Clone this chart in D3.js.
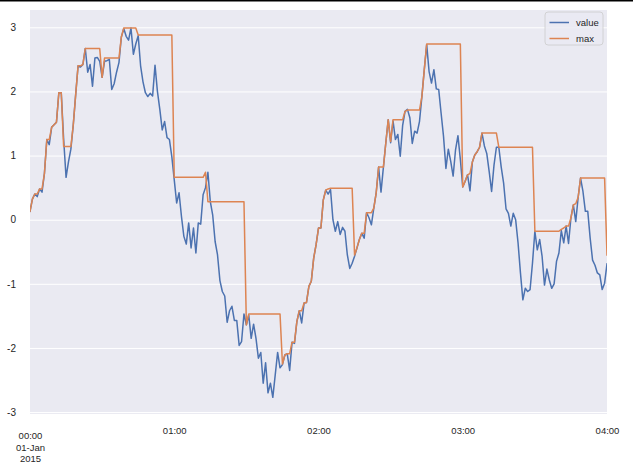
<!DOCTYPE html>
<html>
<head>
<meta charset="utf-8">
<script src="https://cdn.jsdelivr.net/npm/d3@7"></script>
<style>
  html, body { margin: 0; padding: 0; background: #fff; }
  svg { display: block; }
  text { font-family: "Liberation Sans", Arial, Helvetica, sans-serif; fill: #262626; }
</style>
</head>
<body>
<svg id="chart" width="633" height="472"></svg>
<script>
// Minutes from 2015-01-01 00:00, one sample per minute (0..240)
const valueSeries = [
  0.13, 0.32, 0.40, 0.36, 0.48, 0.43, 0.72, 1.25, 1.17, 1.44,
  1.48, 1.52, 1.98, 1.98, 1.25, 0.66, 0.90, 1.10, 1.48, 1.95,
  2.40, 2.38, 2.42, 2.67, 2.30, 2.42, 2.08, 2.52, 2.53, 2.47,
  2.22, 2.47, 2.48, 2.50, 2.03, 2.12, 2.30, 2.45, 2.85, 2.98,
  2.86, 2.80, 2.99, 2.58, 2.74, 2.87, 2.40, 2.15, 1.98, 1.92,
  1.97, 1.93, 2.41, 2.00, 1.72, 1.40, 1.53, 1.28, 1.25, 0.98,
  0.62, 0.26, 0.42, 0.05, -0.26, -0.38, -0.05, -0.44, -0.13, -0.52,
  -0.05, -0.07, 0.39, 0.50, 0.74, 0.28, 0.07, -0.34, -0.55, -0.95,
  -1.12, -1.19, -1.60, -1.42, -1.35, -1.57, -1.57, -1.96, -1.90, -1.47,
  -1.64, -1.49, -1.85, -1.63, -1.85, -2.16, -2.07, -2.55, -2.23, -2.70,
  -2.55, -2.77, -2.42, -2.07, -2.31, -2.26, -2.11, -2.09, -2.35, -1.91,
  -1.93, -1.59, -1.42, -1.61, -1.30, -1.29, -1.04, -0.96, -0.60, -0.39,
  -0.13, -0.13, 0.31, 0.46, 0.40, 0.47, 0.00, -0.18, -0.03, -0.23,
  -0.12, -0.18, -0.55, -0.76, -0.68, -0.57, -0.44, -0.31, -0.21, -0.29,
  0.11, 0.03, -0.08, 0.18, 0.42, 0.82, 0.43, 0.82, 1.20, 1.56,
  1.20, 1.54, 1.25, 1.33, 0.99, 1.47, 1.69, 1.72, 1.59, 1.19,
  1.38, 1.35, 1.53, 1.92, 2.34, 2.73, 2.31, 2.13, 2.34, 2.04,
  2.03, 1.66, 1.30, 0.80, 1.10, 0.91, 0.68, 1.09, 1.31, 0.94,
  0.51, 0.60, 0.70, 0.45, 0.90, 1.01, 1.06, 1.13, 1.35, 1.15,
  1.03, 0.75, 0.44, 0.85, 1.13, 1.13, 0.82, 0.57, 0.17, 0.10,
  -0.10, 0.10, 0.00, -0.36, -0.83, -1.25, -1.07, -1.12, -1.09, -0.68,
  -0.18, -0.47, -0.31, -0.57, -1.02, -0.77, -0.94, -1.07, -1.00, -0.65,
  -0.52, -0.17, -0.36, -0.10, -0.37, 0.03, 0.23, -0.03, 0.35, 0.65,
  0.44, 0.13, 0.13, -0.29, -0.63, -0.71, -0.83, -0.86, -1.09, -0.99,
  -0.69
];

const maxSeries = [
  0.13, 0.32, 0.40, 0.40, 0.48, 0.48, 0.72, 1.25, 1.25, 1.44,
  1.48, 1.52, 1.98, 1.98, 1.14, 1.14, 1.14, 1.14, 1.48, 1.95,
  2.40, 2.40, 2.42, 2.67, 2.67, 2.67, 2.67, 2.67, 2.67, 2.67,
  2.22, 2.52, 2.52, 2.52, 2.52, 2.52, 2.52, 2.52, 2.85, 2.99,
  2.99, 2.99, 2.99, 2.99, 2.99, 2.88, 2.88, 2.88, 2.88, 2.88,
  2.88, 2.88, 2.88, 2.88, 2.88, 2.88, 2.88, 2.88, 2.88, 2.88,
  0.66, 0.66, 0.66, 0.66, 0.66, 0.66, 0.66, 0.66, 0.66, 0.66,
  0.66, 0.66, 0.66, 0.74, 0.28, 0.28, 0.28, 0.28, 0.28, 0.28,
  0.28, 0.28, 0.28, 0.28, 0.28, 0.28, 0.28, 0.28, 0.28, 0.28,
  -1.64, -1.47, -1.47, -1.47, -1.47, -1.47, -1.47, -1.47, -1.47, -1.47,
  -1.47, -1.47, -1.47, -1.47, -1.47, -2.25, -2.11, -2.09, -2.09, -1.91,
  -1.91, -1.59, -1.42, -1.42, -1.30, -1.29, -1.04, -0.96, -0.60, -0.39,
  -0.13, -0.13, 0.31, 0.46, 0.48, 0.49, 0.49, 0.49, 0.49, 0.49,
  0.49, 0.49, 0.49, 0.49, 0.49, -0.55, -0.44, -0.31, -0.21, -0.21,
  0.11, 0.11, 0.11, 0.18, 0.42, 0.82, 0.82, 0.82, 1.20, 1.56,
  1.22, 1.56, 1.56, 1.56, 1.56, 1.56, 1.69, 1.71, 1.71, 1.71,
  1.71, 1.71, 1.71, 1.92, 2.34, 2.74, 2.74, 2.74, 2.74, 2.74,
  2.74, 2.74, 2.74, 2.74, 2.74, 2.74, 2.74, 2.74, 2.74, 2.74,
  0.51, 0.60, 0.70, 0.72, 0.90, 1.01, 1.06, 1.13, 1.35, 1.35,
  1.35, 1.35, 1.35, 1.35, 1.35, 1.13, 1.13, 1.13, 1.13, 1.13,
  1.13, 1.13, 1.13, 1.13, 1.13, 1.13, 1.13, 1.13, 1.13, 1.13,
  -0.18, -0.18, -0.18, -0.18, -0.18, -0.18, -0.18, -0.18, -0.18, -0.18,
  -0.18, -0.15, -0.13, -0.10, -0.10, 0.03, 0.23, 0.25, 0.35, 0.65,
  0.65, 0.65, 0.65, 0.65, 0.65, 0.65, 0.65, 0.65, 0.65, 0.65,
  -0.55
];

const seriesNames = ["value", "max"];
const seriesColors = ["#4C72B0", "#DD8452"];
const yTicks = [-3, -2, -1, 0, 1, 2, 3];
const xTickHours = [0, 1, 2, 3, 4];
const xTickLabels = ["00:00", "01:00", "02:00", "03:00", "04:00"];
const startTime = new Date(2015, 0, 1, 0, 0);

const svg = d3.select("#chart");
const W = 633, H = 472;
const plot = { left: 30, right: 607, top: 10, bottom: 414 };

// top black rule as in the reference image
svg.append("rect").attr("x", 0).attr("y", 0).attr("width", W).attr("height", 1.5).attr("fill", "#000");

const times = valueSeries.map((_, i) => new Date(startTime.getTime() + i * 60000));
const x = d3.scaleTime()
  .domain([startTime, new Date(startTime.getTime() + 4 * 3600000)])
  .range([plot.left, plot.right]);
const y = d3.scaleLinear().domain([-3.03, 3.27]).range([plot.bottom, plot.top]);

svg.append("rect")
  .attr("x", plot.left).attr("y", plot.top)
  .attr("width", plot.right - plot.left).attr("height", plot.bottom - plot.top)
  .attr("fill", "#EAEAF2");

// horizontal gridlines
const yAxis = d3.axisLeft(y).tickValues(yTicks).tickSize(-(plot.right - plot.left)).tickPadding(14)
  .tickFormat(d => d < 0 ? "-" + Math.abs(d) : String(d));
const gy = svg.append("g").attr("transform", `translate(${plot.left},0)`).call(yAxis);
gy.select(".domain").remove();
gy.selectAll(".tick line").attr("stroke", "#fff").attr("stroke-width", 1);
gy.selectAll(".tick text").attr("font-size", 10).attr("fill", "#262626")
  .attr("font-family", "Liberation Sans, Arial, sans-serif");

// x axis labels
const xTickDates = xTickHours.map(h => new Date(startTime.getTime() + h * 3600000));
const xAxis = d3.axisBottom(x).tickValues(xTickDates).tickSize(0).tickPadding(13)
  .tickFormat((d, i) => xTickLabels[i]);
const gx = svg.append("g").attr("transform", `translate(0,${plot.bottom})`).call(xAxis);
gx.select(".domain").remove();
gx.selectAll(".tick line").remove();
gx.selectAll(".tick text").attr("font-size", 9.5).attr("fill", "#262626")
  .attr("font-family", "Liberation Sans, Arial, sans-serif");
// major tick (first) is lower and carries date lines
gx.selectAll(".tick").filter((d, i) => i === 0).select("text").each(function () {
  const t = d3.select(this);
  t.attr("dy", null).attr("y", 24.5).text(null);
  t.append("tspan").attr("x", 0).attr("dy", 0).text(xTickLabels[0]);
  t.append("tspan").attr("x", 0).attr("dy", "1.3em").text("01-Jan");
  t.append("tspan").attr("x", 0).attr("dy", "1.15em").text("2015");
});

const line = d3.line().x((d, i) => x(times[i])).y(d => y(d));
svg.append("clipPath").attr("id", "clip").append("rect")
  .attr("x", plot.left).attr("y", plot.top)
  .attr("width", plot.right - plot.left).attr("height", plot.bottom - plot.top);

[valueSeries, maxSeries].forEach((s, k) => {
  svg.append("path").datum(s)
    .attr("clip-path", "url(#clip)")
    .attr("d", line)
    .attr("fill", "none")
    .attr("stroke", seriesColors[k])
    .attr("stroke-width", 1.5)
    .attr("stroke-linejoin", "round")
    .attr("stroke-linecap", "square");
});

// legend
const lg = svg.append("g").attr("transform", "translate(545,12)");
lg.append("rect").attr("x", 0).attr("y", 0).attr("width", 58).attr("height", 33)
  .attr("rx", 3).attr("fill", "#EAEAF2").attr("fill-opacity", 0.8)
  .attr("stroke", "#cccccc").attr("stroke-width", 0.8);
seriesNames.forEach((n, i) => {
  const yy = 10.5 + i * 16;
  lg.append("line").attr("x1", 4.5).attr("x2", 24).attr("y1", yy).attr("y2", yy)
    .attr("stroke", seriesColors[i]).attr("stroke-width", 1.5);
  lg.append("text").attr("x", 31).attr("y", yy).attr("dy", "0.35em")
    .attr("font-size", 9.5).text(n);
});
</script>
</body>
</html>
